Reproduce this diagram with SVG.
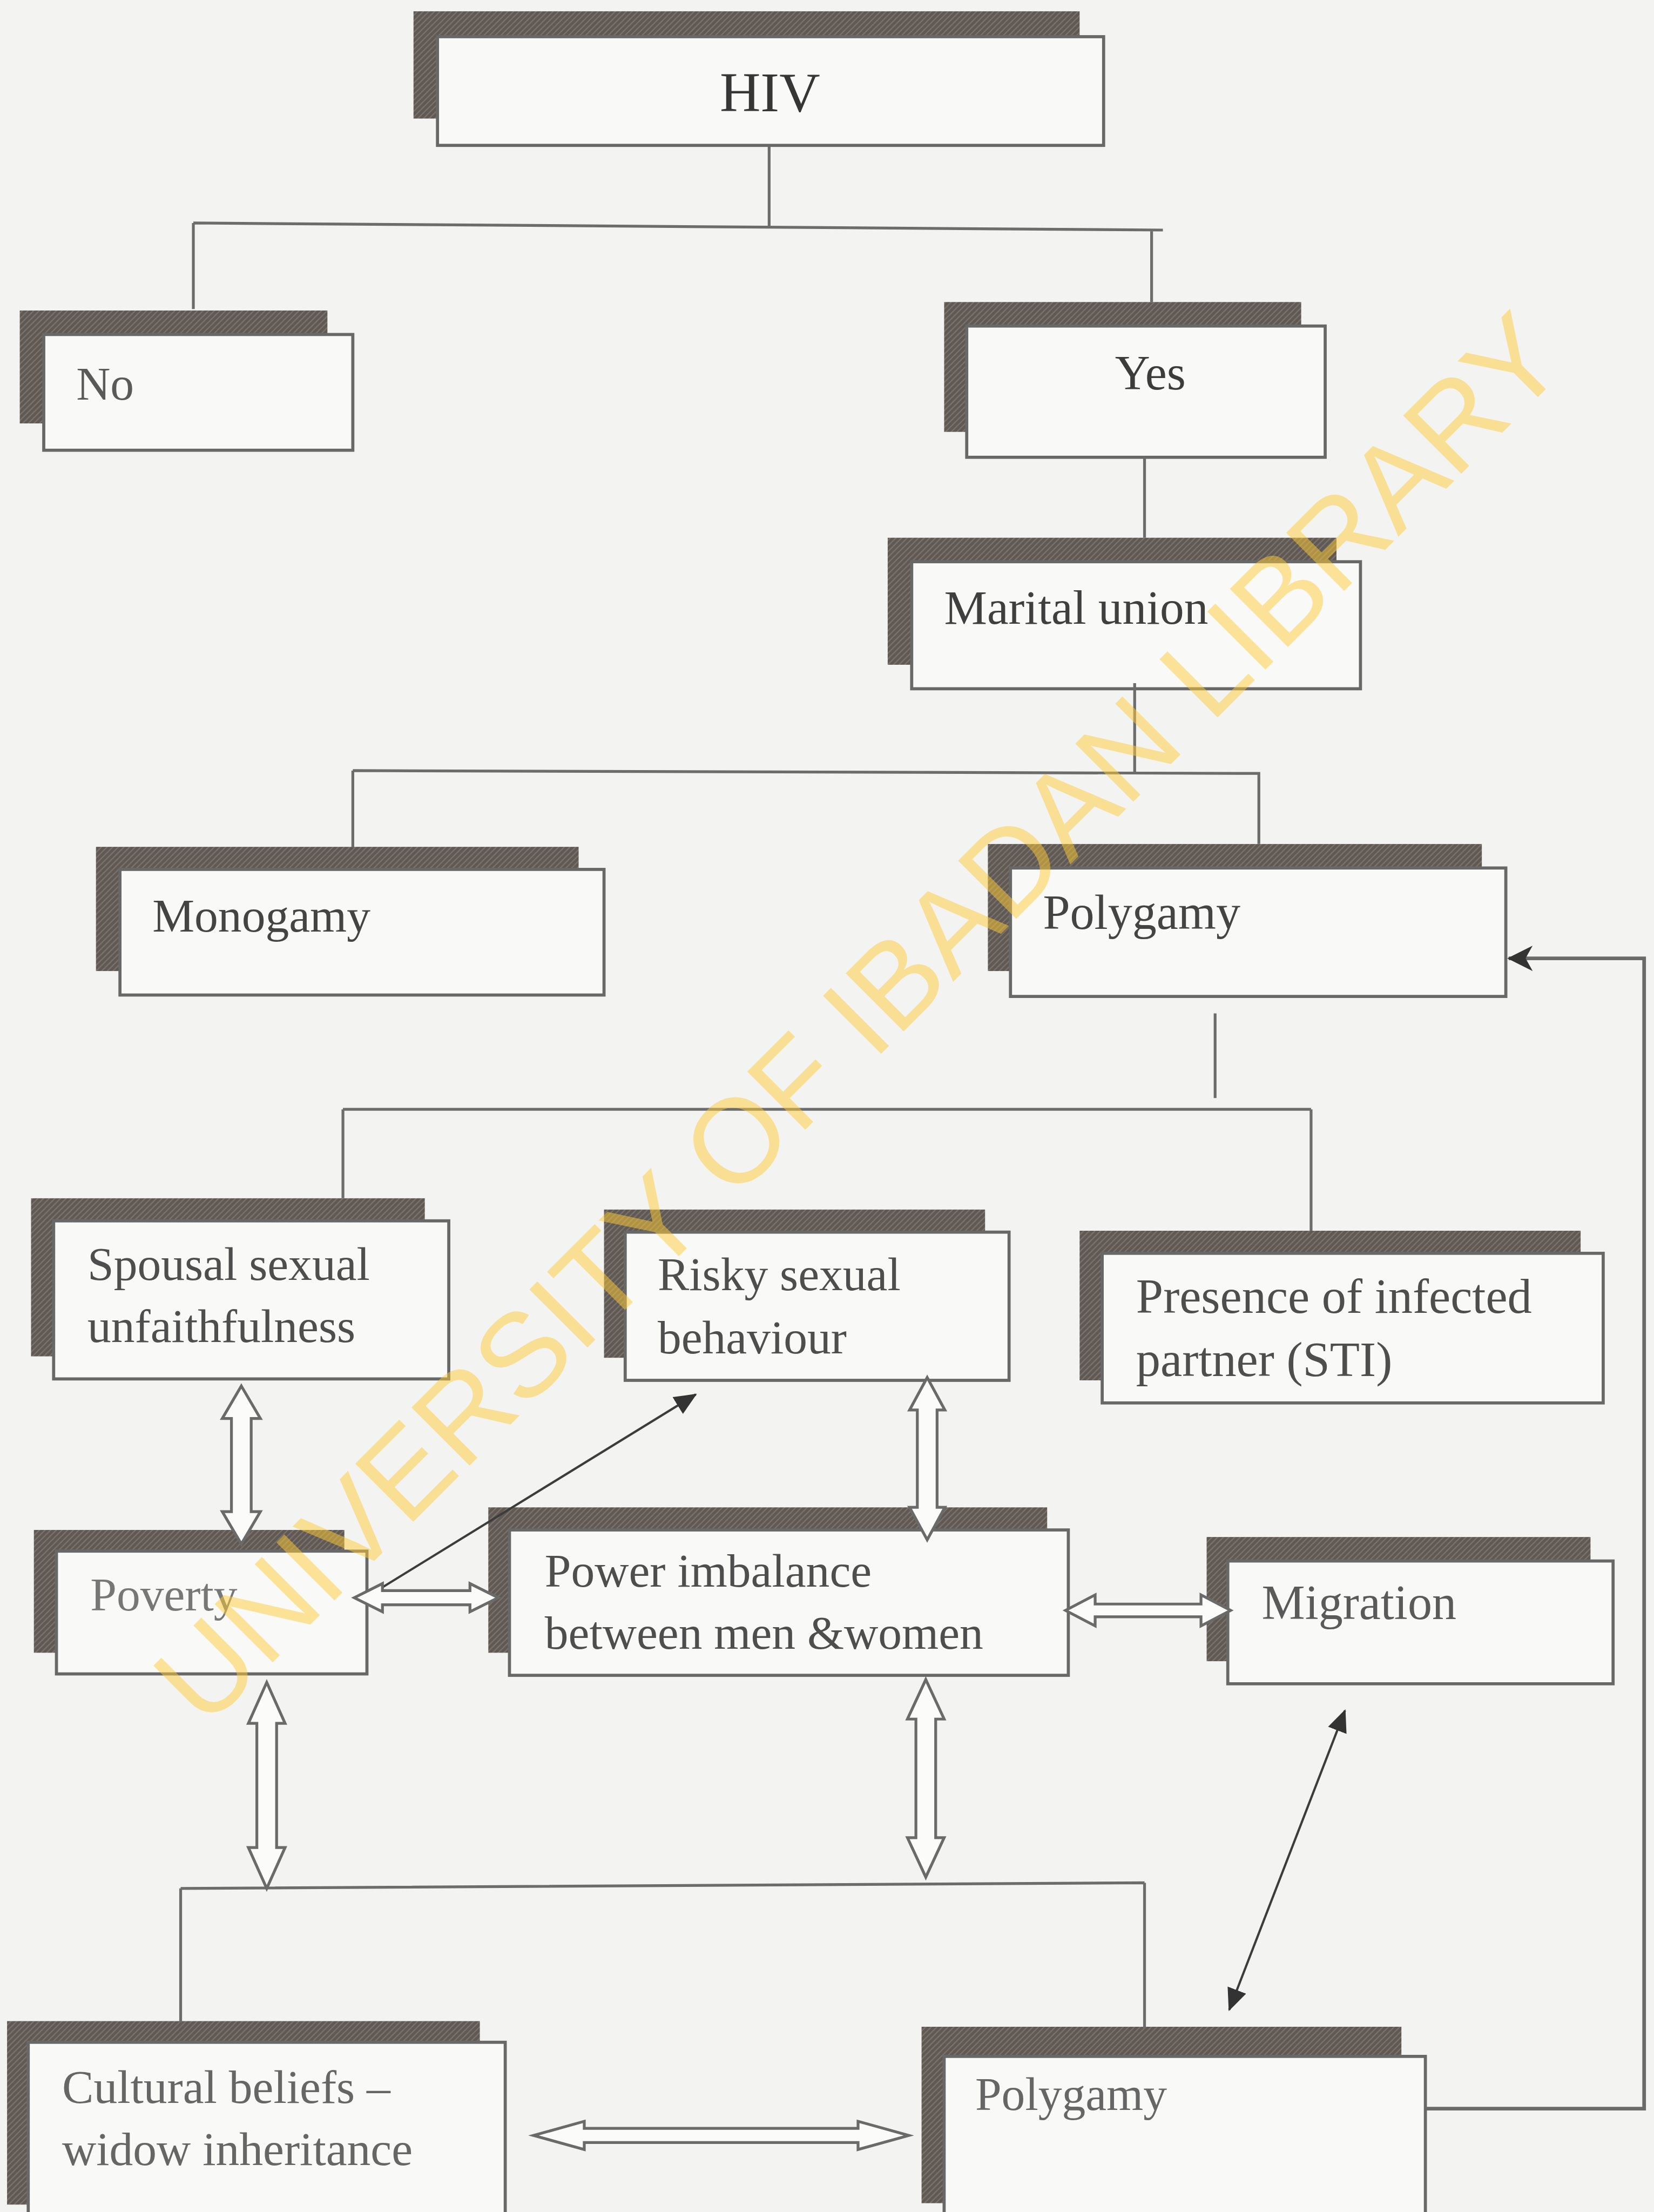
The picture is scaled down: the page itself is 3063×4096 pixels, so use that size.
<svg xmlns="http://www.w3.org/2000/svg" width="3063" height="4096" viewBox="0 0 3063 4096">
<style>
.sh{fill:url(#tex)}
.bx{fill:#f9f9f8;stroke:#686868;stroke-width:2.2}
.t{font-family:"Liberation Serif","Times New Roman",serif;font-size:33.5px;fill:#4e4e4e}
.ln{fill:none;stroke:#6c6c6c;stroke-width:2}
.ha{fill:#fbfbfa;stroke:#6a6a6a;stroke-width:2;stroke-linejoin:miter}
.ar{fill:none;stroke:#3c3c3c;stroke-width:1.6}
.lp{fill:none;stroke:#6a6a6a;stroke-width:2.6}
.wm{font-family:"Liberation Sans",Arial,sans-serif;font-size:84.5px;fill:#ffcc33;fill-opacity:0.5}
</style>
<defs>
<pattern id="tex" patternUnits="userSpaceOnUse" width="4" height="4">
<rect width="4" height="4" fill="#605953"/>
<path d="M0,4 L4,0 M-1,1 L1,-1 M3,5 L5,3" stroke="#7a736d" stroke-width="0.9"/>
</pattern>
<marker id="ah" markerUnits="userSpaceOnUse" viewBox="0 0 16 14" refX="15" refY="7" markerWidth="16" markerHeight="14" orient="auto-start-reverse">
<path d="M0,0 L16,7 L0,14 z" fill="#333"/>
</marker>
<marker id="ahb" markerUnits="userSpaceOnUse" viewBox="0 0 18 18" refX="17" refY="9" markerWidth="18" markerHeight="18" orient="auto">
<path d="M0,0 L18,9 L0,18 L5,9 z" fill="#333"/>
</marker>
</defs>
<rect x="0" y="0" width="3063" height="4096" fill="#f3f3f2"/>
<g transform="scale(2.6135)">
<g id="n-hiv">
<rect class="sh" x="293" y="8" width="472" height="76"/>
<rect class="bx" x="310" y="26" width="472" height="77"/>
<text class="t" x="510" y="79" style="font-size:40px;fill:#363636">HIV</text>
</g>
<g id="n-no">
<rect class="sh" x="14" y="220" width="218" height="80"/>
<rect class="bx" x="31" y="237" width="219" height="82"/>
<text class="t" x="54" y="283" style="fill:#5a5a5a">No</text>
</g>
<g id="n-yes">
<rect class="sh" x="669" y="214" width="253" height="92"/>
<rect class="bx" x="685" y="231" width="254" height="93"/>
<text class="t" x="790" y="276" style="font-size:34.5px;fill:#3c3c3c">Yes</text>
</g>
<g id="n-marital">
<rect class="sh" x="629" y="381" width="318" height="90"/>
<rect class="bx" x="646" y="398" width="318" height="90"/>
<text class="t" x="669" y="442" style="font-size:34.2px;fill:#3f3f3f">Marital union</text>
</g>
<g id="n-monogamy">
<rect class="sh" x="68" y="600" width="342" height="88"/>
<rect class="bx" x="85" y="616" width="343" height="89"/>
<text class="t" x="108" y="660" style="fill:#444">Monogamy</text>
</g>
<g id="n-polygamy1">
<rect class="sh" x="700" y="598" width="350" height="90"/>
<rect class="bx" x="716" y="615" width="351" height="91"/>
<text class="t" x="739" y="658" style="font-size:34.5px;fill:#444">Polygamy</text>
</g>
<g id="n-spousal">
<rect class="sh" x="22" y="849" width="279" height="112"/>
<rect class="bx" x="38" y="865" width="280" height="112"/>
<text class="t" x="62" y="907">Spousal sexual</text>
<text class="t" x="62" y="951">unfaithfulness</text>
</g>
<g id="n-risky">
<rect class="sh" x="428" y="857" width="270" height="105"/>
<rect class="bx" x="443" y="873" width="272" height="105"/>
<text class="t" x="466" y="914">Risky sexual</text>
<text class="t" x="466" y="959">behaviour</text>
</g>
<g id="n-presence">
<rect class="sh" x="765" y="872" width="355" height="106"/>
<rect class="bx" x="781" y="888" width="355" height="106"/>
<text class="t" x="805" y="930" style="font-size:34.6px">Presence of infected</text>
<text class="t" x="805" y="975" style="font-size:34.6px">partner (STI)</text>
</g>
<g id="n-poverty">
<rect class="sh" x="24" y="1084" width="220" height="87"/>
<rect class="bx" x="40" y="1099" width="220" height="87"/>
<text class="t" x="64" y="1141" style="fill:#777">Poverty</text>
</g>
<g id="n-power">
<rect class="sh" x="346" y="1068" width="396" height="103"/>
<rect class="bx" x="361" y="1084" width="396" height="103"/>
<text class="t" x="386" y="1124">Power imbalance</text>
<text class="t" x="386" y="1168">between men &amp;women</text>
</g>
<g id="n-migration">
<rect class="sh" x="855" y="1089" width="272" height="88"/>
<rect class="bx" x="870" y="1106" width="273" height="87"/>
<text class="t" x="894" y="1147" style="font-size:34.5px;fill:#5a5a5a">Migration</text>
</g>
<g id="n-cultural">
<rect class="sh" x="5" y="1432" width="335" height="130"/>
<rect class="bx" x="20" y="1447" width="338" height="135"/>
<text class="t" x="44" y="1490" style="fill:#666">Cultural beliefs –</text>
<text class="t" x="44" y="1534" style="fill:#666">widow inheritance</text>
</g>
<g id="n-polygamy2">
<rect class="sh" x="653" y="1436" width="340" height="125"/>
<rect class="bx" x="669" y="1457" width="341" height="125"/>
<text class="t" x="691" y="1495" style="fill:#666">Polygamy</text>
</g>
<g id="connectors">
<path class="ln" d="M545,104 V161 M137,158 L824,163 M137,158 V219 M816,163 V214"/>
<path class="ln" d="M811,324 V381"/>
<path class="ln" d="M804,484 V547 M250,546 L893,548 M250,546 V600 M892,548 V598"/>
<path class="ln" d="M861,718 V778 M243,786 L929,786 M243,786 V849 M929,786 V872"/>
<path class="ln" d="M128,1338 L811,1334 M128,1338 V1433 M811,1334 V1437"/>
<path class="lp" d="M1010,1494 H1165 V679 H1069" marker-end="url(#ahb)"/>
<path class="ar" d="M259,1132 L493,988" marker-end="url(#ah)"/>
<path class="ar" d="M953,1212 L871,1424" marker-start="url(#ah)" marker-end="url(#ah)"/>
<polygon class="ha" points="171,982 184.5,1005 178,1005 178,1071 184.5,1071 171,1094 157.5,1071 164,1071 164,1005 157.5,1005"/>
<polygon class="ha" points="657,976 669.5,999 664,999 664,1068 669.5,1068 657,1091 644.5,1068 650,1068 650,999 644.5,999"/>
<polygon class="ha" points="251,1132 271,1122 271,1127 333,1127 333,1122 353,1132 333,1142 333,1137 271,1137 271,1142"/>
<polygon class="ha" points="755,1141 776,1130 776,1136.5 851,1136.5 851,1130 872,1141 851,1152 851,1145.5 776,1145.5 776,1152"/>
<polygon class="ha" points="189,1192 202,1221 196,1221 196,1309 202,1309 189,1338 176,1309 182,1309 182,1221 176,1221"/>
<polygon class="ha" points="656,1190 669,1218 663,1218 663,1302 669,1302 656,1330 643,1302 649,1302 649,1218 643,1218"/>
<polygon class="ha" points="378,1513 414,1503 414,1508 608,1508 608,1503 644,1513 608,1523 608,1518 414,1518 414,1523"/>
</g>
<text class="wm" transform="translate(145.2,1225.8) rotate(-45)">UNIVERSITY OF IBADAN LIBRARY</text>
</g>
</svg>
